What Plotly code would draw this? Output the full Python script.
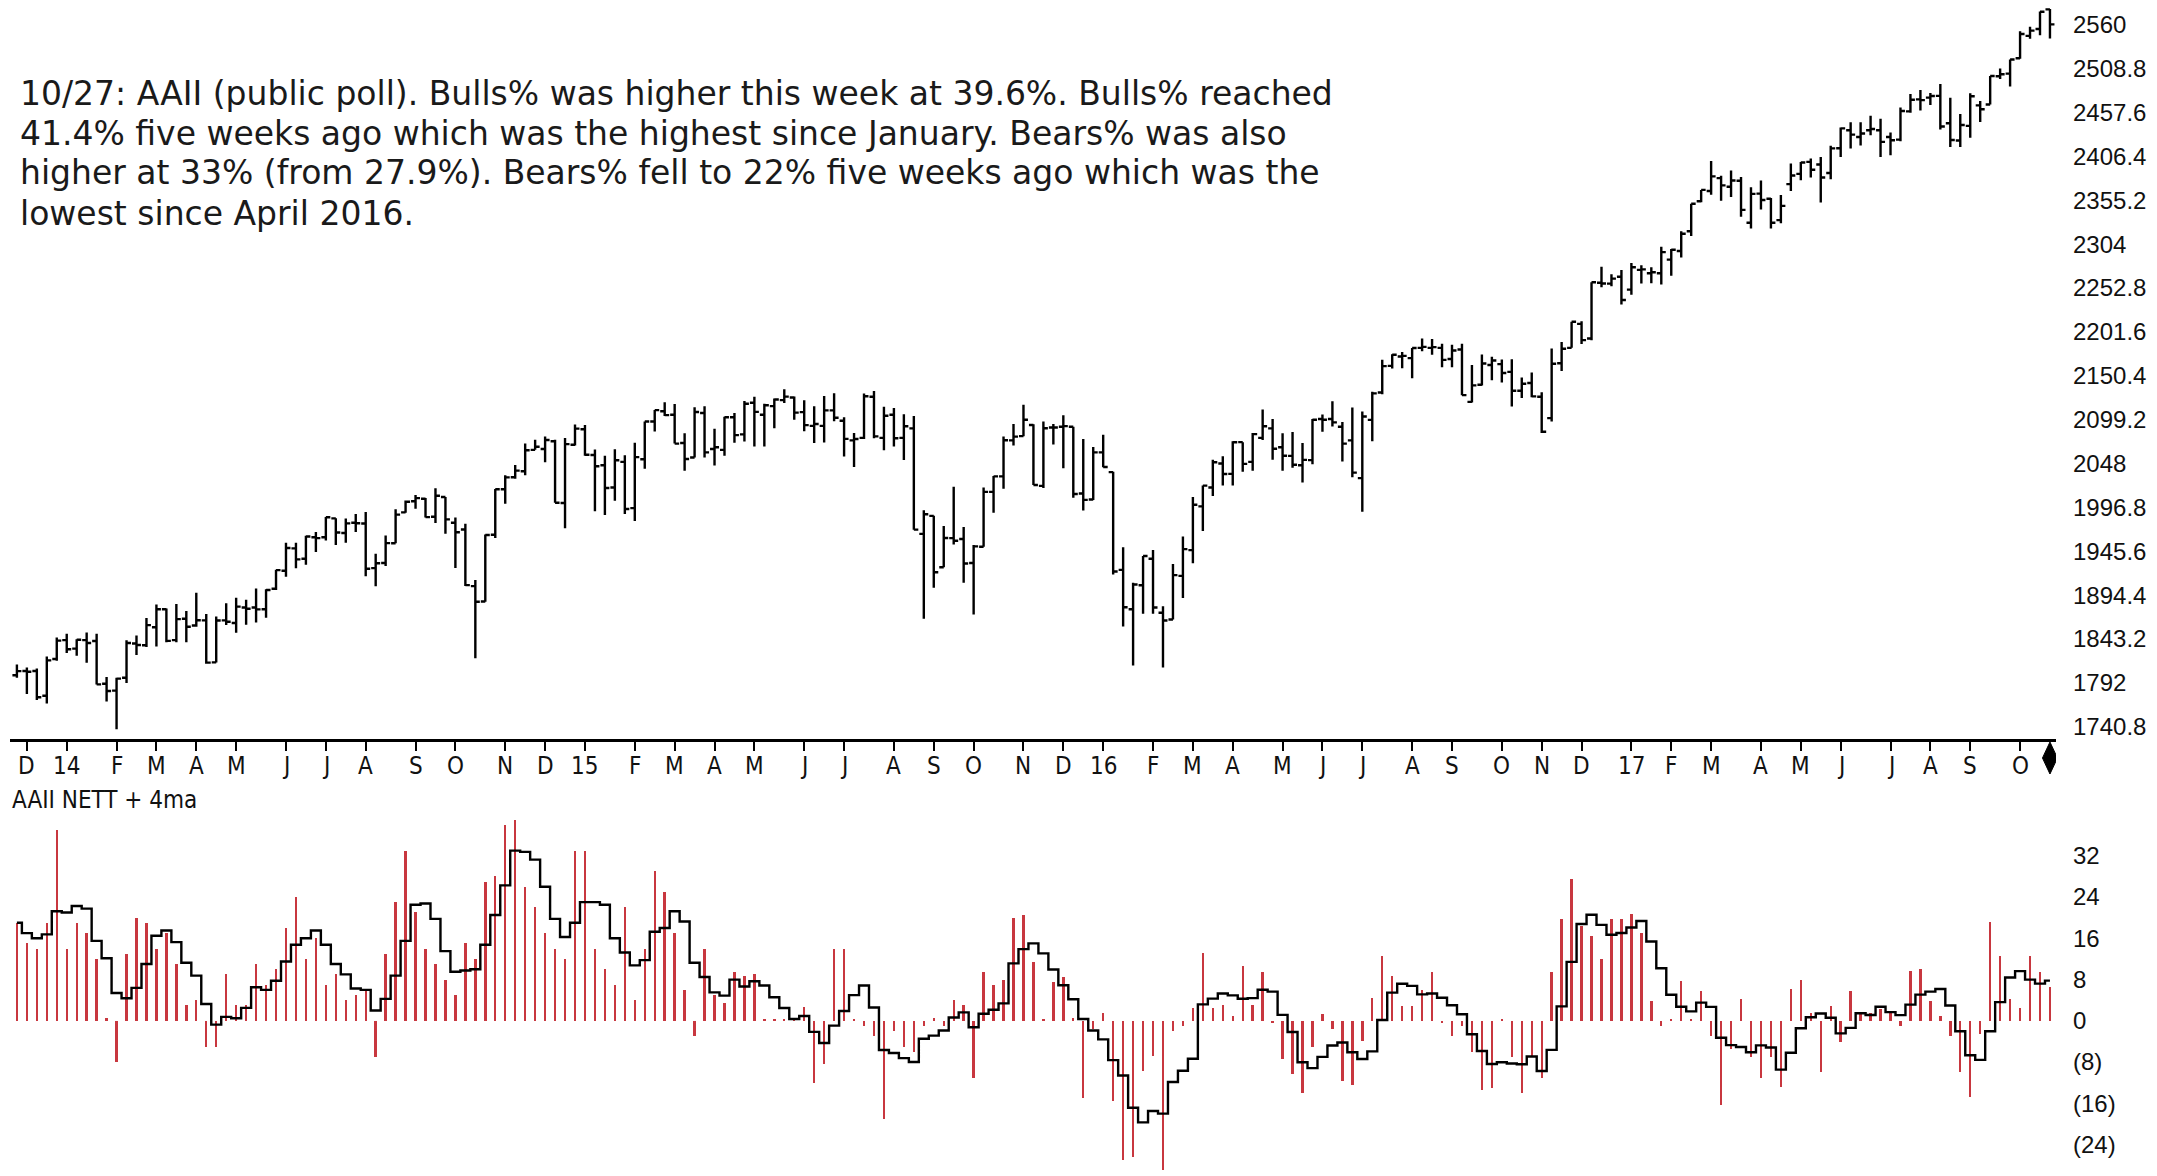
import plotly.graph_objects as go
import pandas as pd

# ---------------- data ----------------
weeks = pd.date_range("2013-11-29", periods=205, freq="W-FRI")

opens = [1801, 1806, 1806, 1777, 1820, 1842, 1832, 1842, 1841, 1791,
         1783, 1798, 1838, 1836, 1857, 1878, 1842, 1867, 1859, 1865,
         1816, 1865, 1862, 1880, 1880, 1878, 1902, 1923, 1949, 1937,
         1962, 1962, 1984, 1967, 1979, 1978, 1926, 1932, 1955, 1991,
         2004, 2007, 1986, 2009, 1979, 1971, 1905, 1887, 1965, 2018,
         2032, 2039, 2064, 2065, 2074, 2002, 2070, 2088, 2058, 2046,
         2020, 2050, 1996, 2053, 2097, 2109, 2105, 2072, 2055, 2107,
         2065, 2064, 2102, 2082, 2119, 2105, 2115, 2122, 2125, 2108,
         2092, 2092, 2110, 2098, 2075, 2078, 2126, 2078, 2105, 2078,
         2089, 1966, 1987, 1927, 1961, 1960, 1932, 1951, 2015, 2033,
         2075, 2080, 2093, 2022, 2090, 2091, 2091, 2013, 2006, 2061,
         2038, 1924, 1878, 1906, 1937, 1874, 1866, 1917, 1947, 1998,
         2020, 2048, 2036, 2073, 2050, 2078, 2089, 2067, 2057, 2046,
         2052, 2100, 2100, 2091, 2075, 2031, 2099, 2131, 2162, 2173,
         2171, 2183, 2183, 2183, 2170, 2181, 2120, 2140, 2163, 2164,
         2155, 2133, 2142, 2126, 2101, 2165, 2183, 2211, 2194, 2259,
         2258, 2266, 2251, 2274, 2270, 2270, 2286, 2296, 2319, 2354,
         2366, 2381, 2371, 2378, 2329, 2363, 2357, 2332, 2374, 2386,
         2400, 2397, 2387, 2416, 2437, 2429, 2437, 2437, 2429, 2426,
         2459, 2473, 2475, 2477, 2445, 2425, 2442, 2466, 2467, 2500,
         2503, 2521, 2547, 2555, 2578]

highs = [1813.5, 1810, 1809, 1823, 1844.9, 1849.4, 1843, 1850.8, 1849.3, 1798.8,
         1798, 1841.7, 1847.5, 1867.9, 1883.6, 1879, 1884, 1875.9, 1897.3, 1872.5,
         1869.6, 1884.9, 1891.3, 1889.1, 1902.2, 1901.3, 1924, 1955.6, 1955.6, 1963.9,
         1968.2, 1985.6, 1984.2, 1983.9, 1989.2, 1991.4, 1942.9, 1964, 1994.8, 2005,
         2011.2, 2007.7, 2019.3, 2009.1, 1985.2, 1977.8, 1912, 1965.3, 2018.2, 2034.3,
         2046.2, 2071.5, 2075.8, 2079.5, 2075.8, 2077.9, 2093.6, 2093, 2064.4, 2057,
         2064.6, 2057.6, 2072.4, 2097, 2110.6, 2119.6, 2117.5, 2083.5, 2113.7, 2114.9,
         2088.6, 2102.6, 2107, 2120.9, 2125.9, 2117.7, 2123.9, 2134.7, 2126.2, 2121.9,
         2115, 2126.7, 2129.9, 2102, 2083.6, 2129.8, 2132.8, 2114.2, 2112.7, 2105.4,
         2103.5, 1993.5, 1987, 1975, 2020.9, 1974, 1953, 2020.1, 2033.5, 2079.7,
         2094.3, 2116.5, 2093.8, 2097.1, 2094.1, 2104.3, 2091, 2076.7, 2067.4, 2081.6,
         2038.3, 1950.3, 1908.9, 1940.2, 1947.2, 1881.6, 1930.7, 1963, 2009.1, 2022.4,
         2052.4, 2056.6, 2074, 2073, 2083.7, 2111.1, 2099.9, 2083.4, 2084.9, 2071.9,
         2100, 2105.3, 2120.6, 2096.5, 2113.3, 2108.7, 2131.7, 2169.1, 2175.6, 2178.3,
         2182.9, 2193.8, 2193.4, 2187.9, 2186.6, 2187.9, 2162.9, 2175.3, 2172.7, 2169.3,
         2169.6, 2148.4, 2154.2, 2131.1, 2182.3, 2189.9, 2213.4, 2214.1, 2259.5, 2277.5,
         2269, 2273.8, 2282.1, 2279.3, 2277, 2301, 2298.3, 2319.2, 2351.3, 2367.3,
         2401, 2383.9, 2390, 2382.4, 2370.4, 2378.4, 2358, 2361.4, 2398.2, 2400,
         2403.9, 2405.8, 2418.7, 2440.2, 2446.2, 2446.2, 2453.8, 2450.4, 2434.3, 2463.5,
         2479.1, 2484, 2480.4, 2490.9, 2474.9, 2456, 2480, 2471, 2500.2, 2508.9,
         2519.4, 2552.5, 2557.7, 2575.4, 2578.3]

lows = [1798, 1779, 1772, 1768, 1818, 1827, 1823.7, 1815.5, 1790.3, 1770.5,
        1737.9, 1791.8, 1824.6, 1834, 1834.4, 1839.6, 1839.6, 1839.6, 1857.6, 1814.4,
        1815.8, 1859.7, 1850.6, 1859.8, 1862.4, 1868.1, 1900.5, 1916, 1925.8, 1930,
        1944.7, 1958.2, 1952.9, 1955.6, 1968, 1916.4, 1904.8, 1928.6, 1955.1, 1990.5,
        1995.4, 1985.2, 1978.5, 1966, 1926, 1905, 1820.7, 1886.8, 1961.1, 2001,
        2030.2, 2034.5, 2064, 2049.6, 2002.3, 1972.6, 2069, 2057, 1992.4, 1988.1,
        2004.5, 1989.2, 1980.9, 2041.9, 2085.4, 2103.5, 2071.3, 2039.7, 2055, 2055.2,
        2045.8, 2057.1, 2072.4, 2073.6, 2067.9, 2067.9, 2089.2, 2118.8, 2099.2, 2085.7,
        2072.1, 2072.5, 2097.3, 2056.3, 2044, 2076.6, 2077.4, 2063.5, 2067.9, 2052.1,
        1970.9, 1867, 1903.1, 1927, 1953.6, 1908.8, 1872, 1951, 1990.7, 2018.6,
        2069.1, 2080, 2022.9, 2019.4, 2070.3, 2042.4, 2008.1, 1993.3, 2005.6, 2043.6,
        1918.5, 1857.8, 1812.3, 1872.7, 1872.7, 1810.1, 1866, 1891, 1931.8, 1969.3,
        2010, 2022.5, 2022.5, 2038.5, 2039.7, 2075.5, 2052.3, 2039.5, 2043, 2025.9,
        2047.3, 2085.1, 2091.2, 2050.4, 2032.1, 1991.7, 2074, 2128.8, 2159, 2159.1,
        2147.6, 2178.9, 2175, 2160.4, 2160.4, 2127.8, 2119.1, 2139.1, 2145.2, 2142.6,
        2114.7, 2124.4, 2125.4, 2083.8, 2097, 2156.1, 2183, 2187.4, 2192, 2253.8,
        2255, 2233.6, 2245.1, 2258.1, 2258.4, 2257, 2267.2, 2288.5, 2313.4, 2352.9,
        2361.6, 2354.6, 2359, 2336.1, 2322.3, 2344.5, 2322.4, 2328.3, 2366, 2378.7,
        2381.7, 2352.7, 2379.8, 2405.7, 2415.7, 2419, 2431, 2405.7, 2407.7, 2424.2,
        2457.2, 2459.9, 2466.5, 2437.8, 2417.4, 2417.4, 2428.2, 2446.6, 2467, 2496.7,
        2488, 2520.4, 2543.8, 2547.9, 2544]

closes = [1805.8, 1805.1, 1775.3, 1818.3, 1841.4, 1831.4, 1842.4, 1838.7, 1790.3, 1782.6,
          1797, 1838.6, 1836.3, 1859.5, 1878, 1841.1, 1866.5, 1857.6, 1865.1, 1815.7,
          1864.9, 1863.4, 1881.1, 1878.5, 1877.9, 1900.5, 1923.6, 1949.4, 1936.2, 1962.9,
          1961, 1985.4, 1967.6, 1978.2, 1978.3, 1925.2, 1931.6, 1955.1, 1988.4, 2003.4,
          2007.7, 1985.5, 2010.4, 1982.9, 1967.9, 1906.1, 1886.8, 1964.6, 2018.1, 2031.9,
          2039.8, 2063.5, 2067.6, 2075.4, 2002.3, 2070.7, 2088.8, 2058.2, 2044.8, 2019.4,
          2051.8, 1995, 2055.5, 2097, 2110.3, 2104.5, 2071.3, 2053.4, 2108.1, 2061,
          2067, 2102.1, 2081.2, 2117.7, 2108.3, 2116.1, 2122.7, 2126.1, 2107.4, 2092.8,
          2094.1, 2110, 2101.5, 2076.8, 2076.6, 2126.6, 2079.7, 2103.8, 2077.6, 2091.5,
          1970.9, 1988.9, 1921.2, 1961.1, 1958, 1931.3, 1951.4, 2014.9, 2033.1, 2075.2,
          2079.4, 2099.2, 2023, 2089.2, 2090.1, 2091.7, 2012.4, 2005.6, 2061, 2043.9,
          1922, 1880.3, 1906.9, 1940.2, 1880.1, 1864.8, 1917.8, 1948.1, 2000, 2022.2,
          2049.6, 2035.9, 2072.8, 2047.6, 2082.4, 2091.6, 2065.3, 2057.1, 2046.6, 2052.3,
          2099.1, 2099.1, 2096.1, 2071.2, 2037.4, 2102.9, 2129.9, 2161.7, 2175, 2173.6,
          2182.9, 2184.1, 2183.9, 2169, 2180, 2127.8, 2139.2, 2164.7, 2168.3, 2153.7,
          2133, 2141.2, 2126.4, 2085.2, 2164.5, 2181.9, 2213.4, 2192, 2259.5, 2258.1,
          2263.8, 2238.8, 2277, 2274.6, 2271.3, 2294.7, 2297.4, 2316.1, 2351.2, 2367.3,
          2383.1, 2372.6, 2378.3, 2344, 2362.7, 2355.5, 2329, 2348.7, 2384.2, 2399.3,
          2390.9, 2381.7, 2415.8, 2439.1, 2431.8, 2433.2, 2438.3, 2423.4, 2425.2, 2459.3,
          2472.5, 2472.1, 2476.8, 2441.3, 2425.6, 2443.1, 2476.6, 2461.4, 2500.2, 2502.2,
          2519.4, 2549.3, 2553.2, 2575.2, 2560.4]

nett = [19, 15, 14, 19, 37, 14, 19, 17, 12, 0.5,
        -8, 13, 20, 19, 14, 17, 11, 3, 4, -5,
        -5, 9, 3, 3, 11, 7, 10, 18, 24, 12,
        16, 7, 9, 4, 5, 6, -7, 13, 23, 33,
        21, 14, 11, 8, 5, 15, 12, 27, 28, 38,
        39, 26, 22, 17, 14, 12, 33, 33, 14, 10,
        7, 22, 4, 14, 29, 25, 17, 6, -3, 14,
        5, 3.5, 9.4, 8.7, 9, 0.3, 0.3, 0.3, 0.5, 2.6,
        -12, -8.4, 14, 14, 0.3, -1, -3, -19, -2, -5,
        -6, -1, 0.5, -1, 4, 3, -11, 9.5, 7, 8,
        20, 20.6, 11.4, 0.3, 7.5, 8.4, 0.5, -15, -1.5, 1.6,
        -15.6, -27, -26.5, -9.7, -6.8, -29, -2, -1, 2.5, 13.2,
        2.5, 3, 1, 10.6, 3, 9.5, -0.5, -7.4, -10.3, -14,
        -5, 1.3, -1.5, -11.7, -12.5, -4, 4.5, 12.6, 8.7, 2.9,
        2.9, 6, 9.4, -0.5, -2.9, -1, -6, -13.5, -13, 0.3,
        -7, -14, -7, -11, 9.4, 19.8, 27.5, 18.4, 16.5, 12,
        19.8, 19.8, 20.8, 17, 3.9, -1, 0.3, 7.7, 0.3, 5.8,
        -3, -16.3, -5.4, 4.3, -7, -11, -7, -12.9, 6.1, 8,
        1.5, -10, 2.9, -4.2, 5.8, 1.3, 1.6, 2.2, 1.6, -1,
        9.7, 10, 3.9, 1, -3, -10, -14.8, -2.5, 19.2, 12.6,
        4.3, 2.4, 12.6, 9.5, 6.6]

price_ticks = [1740.8, 1792, 1843.2, 1894.4, 1945.6, 1996.8, 2048, 2099.2, 2150.4,
               2201.6, 2252.8, 2304, 2355.2, 2406.4, 2457.6, 2508.8, 2560]
price_tick_text = ["1740.8", "1792", "1843.2", "1894.4", "1945.6", "1996.8", "2048",
                   "2099.2", "2150.4", "2201.6", "2252.8", "2304", "2355.2", "2406.4",
                   "2457.6", "2508.8", "2560"]
nett_ticks = [32, 24, 16, 8, 0, -8, -16, -24]
nett_tick_text = ["32", "24", "16", "8", "0", "(8)", "(16)", "(24)"]
month_letters = ["14", "F", "M", "A", "M", "J", "J", "A", "S", "O", "N", "D"]

note_lines = [
    "10/27: AAII (public poll). Bulls% was higher this week at 39.6%. Bulls% reached",
    "41.4% five weeks ago which was the highest since January. Bears% was also",
    "higher at 33% (from 27.9%). Bears% fell to 22% five weeks ago which was the",
    "lowest since April 2016.",
]

# ---------------- derived ----------------
idx = list(range(len(weeks)))
ma4 = pd.Series(nett).rolling(4, min_periods=1).mean().tolist()

tickvals, ticktext = [], []
for i in range(1, len(weeks)):
    if weeks[i].month != weeks[i - 1].month:
        tickvals.append(i)
        if weeks[i].month == 1:
            ticktext.append(f"{weeks[i].year % 100:02d}")
        else:
            ticktext.append(month_letters[weeks[i].month - 1])

# ---------------- geometry ----------------
W, H = 2157, 1176
ML, MR = 10, 101
plot_w = W - ML - MR
px_per_week = 9.966
x0 = -6.9 / px_per_week
x1 = x0 + plot_w / px_per_week

price_bottom_px = 739
price_top_val = 2588.9
price_bot_val = 1726.6
lower_top_px = 815
nett_top, nett_bot = 39.9, -30.1

fig = go.Figure()

fig.add_trace(go.Ohlc(
    x=idx, open=opens, high=highs, low=lows, close=closes,
    increasing=dict(line=dict(color="black", width=2.4)),
    decreasing=dict(line=dict(color="black", width=2.4)),
    tickwidth=0.45, xaxis="x", yaxis="y", hoverinfo="skip",
))

fig.add_trace(go.Bar(
    x=idx, y=nett, width=0.24, marker=dict(color="#c8373f", line=dict(width=0)),
    xaxis="x", yaxis="y2", hoverinfo="skip",
))
fig.add_trace(go.Scatter(
    x=idx, y=ma4, mode="lines", line=dict(color="black", width=2.4, shape="hvh"),
    xaxis="x", yaxis="y2", hoverinfo="skip",
))

axis_font = dict(family="Liberation Sans, Arial, sans-serif", size=24, color="#111")
month_font = dict(family="Liberation Sans Narrow, DejaVu Sans Condensed, Liberation Sans, sans-serif",
                  size=24, color="#111")

fig.update_layout(
    width=W, height=H,
    margin=dict(l=ML, r=MR, t=0, b=0),
    paper_bgcolor="white", plot_bgcolor="white",
    showlegend=False, bargap=0,
    xaxis=dict(
        range=[x0, x1], anchor="y", showgrid=False, zeroline=False,
        showline=True, linecolor="black", linewidth=3,
        ticks="outside", ticklen=9, tickwidth=2, tickcolor="black",
        tickvals=tickvals, showticklabels=False,
        rangeslider=dict(visible=False), fixedrange=True,
    ),
    yaxis=dict(
        domain=[1 - price_bottom_px / H, 1], range=[price_bot_val, price_top_val],
        side="right", showgrid=False, zeroline=False, showline=False,
        ticks="", tickvals=price_ticks, ticktext=price_tick_text,
        tickfont=axis_font, ticklabelstandoff=16,
    ),
    yaxis2=dict(
        domain=[0, 1 - lower_top_px / H], range=[nett_bot, nett_top],
        side="right", showgrid=False, zeroline=False, showline=False,
        ticks="", tickvals=nett_ticks, ticktext=nett_tick_text,
        tickfont=axis_font, ticklabelstandoff=16, anchor="x",
    ),
)

# current-bar marker (diamond) under the axis at the last bar
last = idx[-1]
y_top, y_mid, y_bot = 1 - 742 / H, 1 - 758 / H, 1 - 774 / H
fig.add_shape(
    type="path", xref="x", yref="paper",
    path=f"M {last} {y_top} L {last + 0.75} {y_mid} L {last} {y_bot} L {last - 0.75} {y_mid} Z",
    fillcolor="black", line=dict(color="black", width=1),
)

# month labels under the price panel
for tv, tt in zip(tickvals, ticktext):
    fig.add_annotation(
        text=tt, x=tv, xref="x", y=1 - 766 / H, yref="paper",
        xanchor="center", yanchor="middle", showarrow=False, font=month_font,
    )

# explanatory note
note_font = dict(family="DejaVu Sans, Verdana, sans-serif", size=33, color="#1a1a1a")
for k, line in enumerate(note_lines):
    yc = 93 + 40 * k
    fig.add_annotation(
        text=line, xref="paper", yref="paper",
        x=(18 - ML) / plot_w, y=1 - yc / H,
        xanchor="left", yanchor="middle", showarrow=False, font=note_font,
    )

# lower panel title
fig.add_annotation(
    text="AAII NETT + 4ma", xref="paper", yref="paper",
    x=0, y=1 - 800 / H, xanchor="left", yanchor="middle",
    showarrow=False, font=month_font,
)

fig.write_html(
    "out.html",
    config={"displayModeBar": False, "staticPlot": True},
    post_script="document.body.style.margin='0';document.body.style.overflow='hidden';",
)
